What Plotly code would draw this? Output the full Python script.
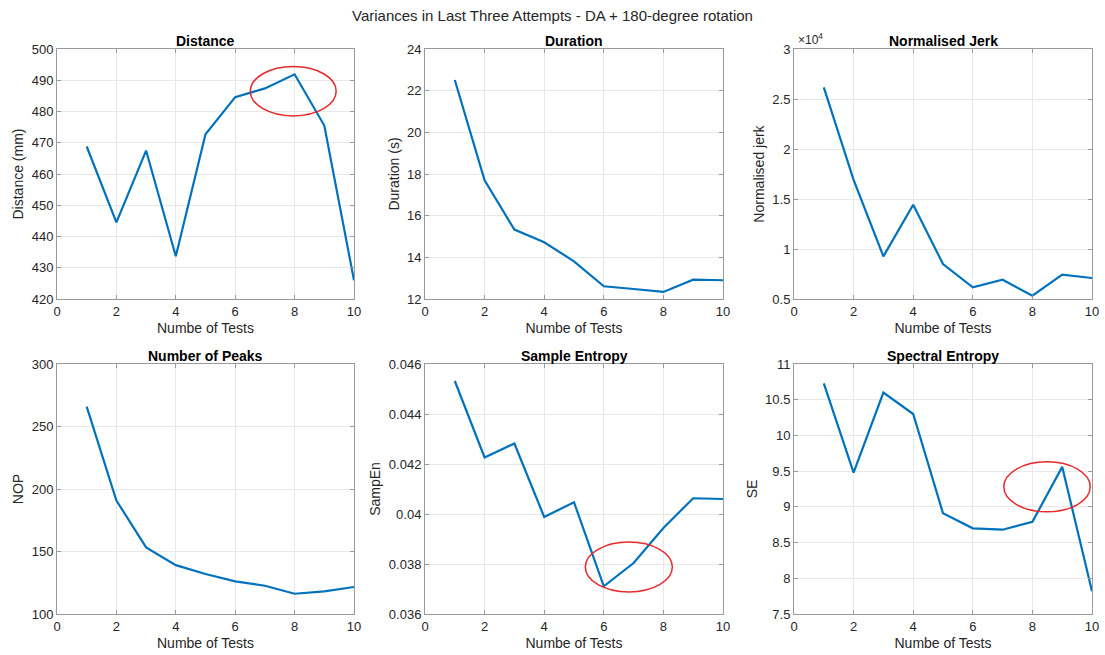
import plotly.graph_objects as go

tests = [1, 2, 3, 4, 5, 6, 7, 8, 9, 10]
distance = [468.8, 444.5, 467.5, 433.7, 472.7, 484.6, 487.4, 491.9, 475.5, 426.0]
duration = [22.51, 17.7, 15.33, 14.72, 13.81, 12.61, 12.48, 12.34, 12.93, 12.9]
jerk = [26170, 16920, 9260, 14420, 8500, 6170, 6930, 5330, 7430, 7100]
peaks = [265.9, 190.8, 153.3, 139.1, 132.0, 126.1, 122.6, 116.2, 118.1, 121.6]
sampen = [0.04532, 0.04226, 0.04282, 0.03988, 0.04047, 0.03711, 0.03804, 0.03944, 0.04063, 0.0406]
specen = [10.73, 9.48, 10.60, 10.30, 8.91, 8.70, 8.68, 8.79, 9.56, 7.82]

titles = ["Distance", "Duration", "Normalised Jerk", "Number of Peaks", "Sample Entropy", "Spectral Entropy"]
ylabels = ["Distance (mm)", "Duration (s)", "Normalised jerk", "NOP", "SampEn", "SE"]
series = [distance, duration, jerk, peaks, sampen, specen]
yranges = [[420, 500], [12, 24], [5000, 30000], [100, 300], [0.036, 0.046], [7.5, 11]]
ytickvals = [
    [420, 430, 440, 450, 460, 470, 480, 490, 500],
    [12, 14, 16, 18, 20, 22, 24],
    [5000, 10000, 15000, 20000, 25000, 30000],
    [100, 150, 200, 250, 300],
    [0.036, 0.038, 0.040, 0.042, 0.044, 0.046],
    [7.5, 8, 8.5, 9, 9.5, 10, 10.5, 11],
]
yticktext = [
    ["420", "430", "440", "450", "460", "470", "480", "490", "500"],
    ["12", "14", "16", "18", "20", "22", "24"],
    ["0.5", "1", "1.5", "2", "2.5", "3"],
    ["100", "150", "200", "250", "300"],
    ["0.036", "0.038", "0.04", "0.042", "0.044", "0.046"],
    ["7.5", "8", "8.5", "9", "9.5", "10", "10.5", "11"],
]
xtickvals = [0, 2, 4, 6, 8, 10]
xlabel = "Numbe of Tests"
# red ellipses: (subplot index, x0, x1, y0, y1)
ellipses = [(0, 6.51, 9.40, 478.6, 494.4), (4, 5.38, 8.30, 0.03688, 0.03888), (5, 7.04, 9.94, 8.93, 9.63)]

W, H = 1105, 655
xdom_px = [(57, 354), (425, 723), (794, 1092)]
ydom_px = [(49, 299), (364, 614)]

FONT = "Liberation Sans, Arial, Helvetica, sans-serif"
TXT = "#262626"
AX = "#9a9a9a"
GRID = "#e8e8e8"
BLUE = "#0072BD"

fig = go.Figure()
layout = dict(
    template="none",
    width=W, height=H,
    margin=dict(l=0, r=0, t=0, b=0, autoexpand=False),
    paper_bgcolor="white", plot_bgcolor="white",
    showlegend=False,
    font=dict(family=FONT, size=13, color=TXT),
)
annotations = []
shapes = []
for i in range(6):
    r, c = divmod(i, 3)
    xa = "xaxis" if i == 0 else f"xaxis{i+1}"
    ya = "yaxis" if i == 0 else f"yaxis{i+1}"
    xr = "x" if i == 0 else f"x{i+1}"
    yr = "y" if i == 0 else f"y{i+1}"
    x0, x1 = xdom_px[c]
    y0, y1 = ydom_px[r]
    layout[xa] = dict(
        domain=[x0 / W, x1 / W], anchor=yr, range=[0, 10], automargin=False,
        tickvals=xtickvals, ticks="inside", ticklen=4, tickcolor=AX,
        showline=True, linecolor=AX, linewidth=1, mirror="ticks",
        showgrid=True, gridcolor=GRID, gridwidth=1, zeroline=False,
        tickfont=dict(size=13, color=TXT),
        title=dict(text=xlabel, font=dict(size=14, color=TXT), standoff=5),
    )
    layout[ya] = dict(
        domain=[1 - y1 / H, 1 - y0 / H], anchor=xr, range=yranges[i], automargin=False,
        tickvals=ytickvals[i], ticktext=yticktext[i],
        ticks="inside", ticklen=4, tickcolor=AX,
        showline=True, linecolor=AX, linewidth=1, mirror="ticks",
        showgrid=True, gridcolor=GRID, gridwidth=1, zeroline=False,
        tickfont=dict(size=13, color=TXT),
        title=dict(text=ylabels[i], font=dict(size=14, color=TXT), standoff=4),
    )
    fig.add_trace(go.Scatter(x=tests, y=series[i], mode="lines",
                             line=dict(color=BLUE, width=2.2), xaxis=xr, yaxis=yr,
                             hoverinfo="x+y"))
    annotations.append(dict(
        text="<b>" + titles[i] + "</b>", x=(x0 + x1) / 2 / W, y=1 - y0 / H,
        xref="paper", yref="paper", xanchor="center", yanchor="bottom",
        showarrow=False, font=dict(size=14, color="#000000"), yshift=-2,
    ))

for (i, ex0, ex1, ey0, ey1) in ellipses:
    xr = "x" if i == 0 else f"x{i+1}"
    yr = "y" if i == 0 else f"y{i+1}"
    shapes.append(dict(type="circle", xref=xr, yref=yr, x0=ex0, x1=ex1, y0=ey0, y1=ey1,
                       line=dict(color="#e8292b", width=1.5)))

# x10^4 exponent label for Normalised Jerk
annotations.append(dict(
    text="×10<sup>4</sup>", x=796 / W, y=1 - 49 / H, xref="paper", yref="paper",
    xanchor="left", yanchor="bottom", showarrow=False, font=dict(size=12, color=TXT),
))
# Super title
annotations.append(dict(
    text="Variances in Last Three Attempts - DA + 180-degree rotation",
    x=0.5, y=1 - 15 / H, xref="paper", yref="paper", xanchor="center", yanchor="middle",
    showarrow=False, font=dict(size=15, color=TXT),
))
layout["annotations"] = annotations
layout["shapes"] = shapes
fig.update_layout(**layout)
fig.write_html("out.html")
